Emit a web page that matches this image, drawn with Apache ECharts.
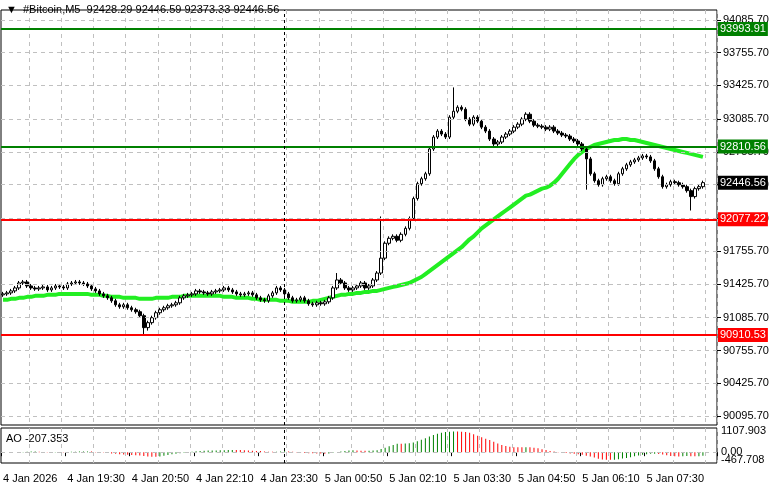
<!DOCTYPE html>
<html><head><meta charset="utf-8">
<script src="https://cdn.jsdelivr.net/npm/echarts@6/dist/echarts.min.js"></script>
<style>html,body{margin:0;padding:0;background:#fff}#c{width:781px;height:489px}</style>
</head><body><div id="c"></div>
<script>
const closes=[91326,91336,91356,91386,91436,91446,91406,91386,91376,91386,91396,91366,91386,91406,91396,91386,91426,91436,91446,91436,91426,91406,91376,91356,91326,
91306,91286,91256,91216,91196,91216,91186,91166,91146,91106,90986,91036,91086,91136,91166,91186,
91206,91216,91236,91286,91306,91316,91326,91356,91346,91336,91326,91346,91356,91366,91386,91366,91346,91326,91316,91326,91336,91316,91286,91266,91256,91306,91336,91386,91366,91326,
91286,91256,91266,91286,91256,91226,91216,91236,91226,91246,91286,91386,91466,91436,91386,
91366,91386,91406,91436,91386,91406,91466,91536,91686,91836,91886,91906,91866,91926,91986,
92086,92286,92436,92486,92536,92786,92906,92966,92936,92906,93106,93166,93206,93186,93086,93036,93106,93066,93006,92966,
92886,92836,92856,92906,92936,92966,93006,93036,93086,93136,93066,93026,93016,93006,92986,93006,92966,92946,92926,92916,
92886,92866,92836,92786,92686,92536,92466,92426,92486,92506,92466,92436,92536,92586,92626,92656,92676,92696,92716,92706,
92666,92586,92506,92406,92426,92456,92446,92426,92406,92366,92306,92386,92406,92446.56];
const firstOpen=91316;
const wickHigh={83:91536,94:92106,112:93406};
const wickLow={35:90906,36:90956,171:92166,145:92376};
const maValues=[91266,91266,91276,91276,91286,91286,91296,91296,91306,91306,91306,91316,91316,91316,91326,91326,91326,91326,91326,91326,91326,
91326,91316,91316,91316,91306,91306,91296,91296,91296,91286,91286,91286,91286,91276,91276,91276,91276,91286,91286,91286,
91286,91296,91296,91296,91306,91306,91306,91306,91306,91306,91306,91306,91306,91306,91296,91296,91296,91286,91286,91286,91286,91276,91276,91266,91266,91266,91266,91266,91256,91256,
91256,91246,91246,91246,91246,91246,91256,91256,91266,91276,91286,91296,91306,91316,91316,91326,91326,91336,91336,91346,
91346,91356,91356,91366,91376,91386,91396,91406,91416,91426,
91436,91456,91476,91496,91526,91556,91586,91616,91646,91676,91706,91736,91766,91796,91836,91876,91906,91946,91986,92016,92046,92076,92106,92136,92166,92196,92226,92256,92286,92316,
92326,92346,92366,92386,92396,92416,92446,92486,92536,92586,92636,92686,92726,92756,92786,92806,92826,92836,92846,92856,92866,92876,92876,92886,92886,92876,92876,92866,92856,92846,92836,92826,92816,92806,92796,92786,92776,92766,92756,92746,92736,92726,92716,92706];
const levelsGreen=[93993.91,92810.56];
const levelsRed=[92077.22,90910.53];
const lastPrice=92446.56;
const priceTicks=[90095.7,90425.7,90755.7,91085.7,91425.7,91755.7,92085.7,92425.7,92755.7,93085.7,93425.7,93755.7,94085.7];
const aoTicks=[0,1107.903];
const aoMinLabel='-467.708';

const N=closes.length, PAD=3;
const categories=[];
for(let i=0;i<N+PAD;i++){
  const m=18*60+10+5*i, d=m>=1440?5:4, mm=m%1440;
  const t=String(Math.floor(mm/60)).padStart(2,'0')+':'+String(mm%60).padStart(2,'0');
  categories.push(i===0?'4 Jan 2026':d+' Jan '+t);
}
const ohlc=[];const med=[];
for(let i=0;i<N;i++){
  const o=i===0?firstOpen:closes[i-1], c=closes[i];
  const h=wickHigh[i]!==undefined?wickHigh[i]:Math.max(o,c)+20;
  const l=wickLow[i]!==undefined?wickLow[i]:Math.min(o,c)-20;
  ohlc.push([o,c,l,h]); med.push((h+l)/2);
}
function sma(a,i,p){let s=0,n=0;for(let k=Math.max(0,i-p+1);k<=i;k++){s+=a[k];n++;}return s/n;}
const ao=[];for(let i=0;i<N;i++)ao.push(sma(med,i,5)-sma(med,i,34));
const aoData=ao.map((v,i)=>({value:v,itemStyle:{color:(i>0&&v<ao[i-1])?'#ff0000':'#008000'}}));

const font='Liberation Sans';
const chart=echarts.init(document.getElementById('c'));
const tag=(v,bg,line)=>({yAxis:v,lineStyle:{color:line,width:2,type:'solid'},label:{show:true,position:'end',formatter:v.toFixed(2),color:'#fff',backgroundColor:bg,padding:[2,2,1,2],fontFamily:font,fontSize:11,distance:1}});
chart.setOption({
  animation:false,
  grid:[{left:1,right:64,top:10,bottom:64,show:true,borderColor:'#000',borderWidth:1},
        {left:1,right:64,top:428,height:35,show:true,borderColor:'#000',borderWidth:1}],
  xAxis:[{type:'category',data:categories,gridIndex:0,axisLine:{show:false},axisTick:{show:false},axisLabel:{show:false},
          splitLine:{show:true,interval:(i)=>i%8===7,lineStyle:{color:'#c0c0c0',type:[4,4]}}},
         {type:'category',data:categories,gridIndex:1,axisLine:{show:false},
          axisTick:{show:true,interval:(i)=>i%16===0&&i<N,length:4,lineStyle:{color:'#000'}},
          axisLabel:{show:true,interval:(i)=>i%16===0&&i<N,align:'left',margin:10,color:'#000',fontFamily:font,fontSize:11},
          splitLine:{show:true,interval:(i)=>i%8===7,lineStyle:{color:'#c0c0c0',type:[4,4]}}}],
  yAxis:[{type:'value',gridIndex:0,position:'right',min:90005,max:94186,axisLine:{show:false},
          axisTick:{show:true,customValues:priceTicks,length:4,lineStyle:{color:'#000'}},
          axisLabel:{customValues:priceTicks,formatter:v=>v.toFixed(2),color:'#000',fontFamily:font,fontSize:11,margin:6},
          splitLine:{show:false}},
         {type:'value',gridIndex:1,position:'right',min:-560,max:1250,axisLine:{show:false},
          axisTick:{show:false},
          axisLabel:{customValues:aoTicks,formatter:v=>v===0?'0.00':v.toFixed(3),color:'#000',fontFamily:font,fontSize:11,margin:4},
          splitLine:{show:false}}],
  series:[
    {type:'line',xAxisIndex:0,yAxisIndex:0,data:[],silent:true,
     markLine:{silent:true,symbol:'none',label:{show:false},lineStyle:{color:'#c0c0c0',type:[4,4],width:1},
       data:priceTicks.map(v=>({yAxis:v}))}},
    {type:'line',xAxisIndex:0,yAxisIndex:0,data:maValues,showSymbol:false,lineStyle:{color:'#22ee22',width:4},z:3},
    {type:'candlestick',xAxisIndex:0,yAxisIndex:0,data:ohlc,barWidth:3,z:4,
     itemStyle:{color:'#fff',color0:'#000',borderColor:'#000',borderColor0:'#000',borderWidth:1},
     markLine:{silent:true,symbol:'none',animation:false,
       data:[tag(levelsGreen[0],'#008000','#008000'),tag(levelsGreen[1],'#008000','#008000'),tag(levelsRed[0],'#ff0000','#ff0000'),tag(levelsRed[1],'#ff0000','#ff0000'),
        tag(lastPrice,'#000','rgba(0,0,0,0)'),
        {xAxis:70,lineStyle:{color:'#000',type:[3,3],width:1},label:{show:false}}]}},
    {type:'bar',xAxisIndex:1,yAxisIndex:1,data:aoData,barWidth:1,
     markLine:{silent:true,symbol:'none',label:{show:false},data:[{yAxis:0,lineStyle:{color:'#c0c0c0',type:[4,4],width:1}},
       {xAxis:70,lineStyle:{color:'#000',type:[3,3],width:1}}]}}
  ],
  graphic:[
    {type:'text',left:6,top:4,style:{text:'▼  #Bitcoin,M5  92428.29 92446.59 92373.33 92446.56',fill:'#000',font:'11px '+font}},
    {type:'text',left:6,top:433,style:{text:'AO -207.353',fill:'#000',font:'11px '+font}},
    {type:'text',left:721,top:454,style:{text:aoMinLabel,fill:'#000',font:'11px '+font}}
  ]
});
</script></body></html>
